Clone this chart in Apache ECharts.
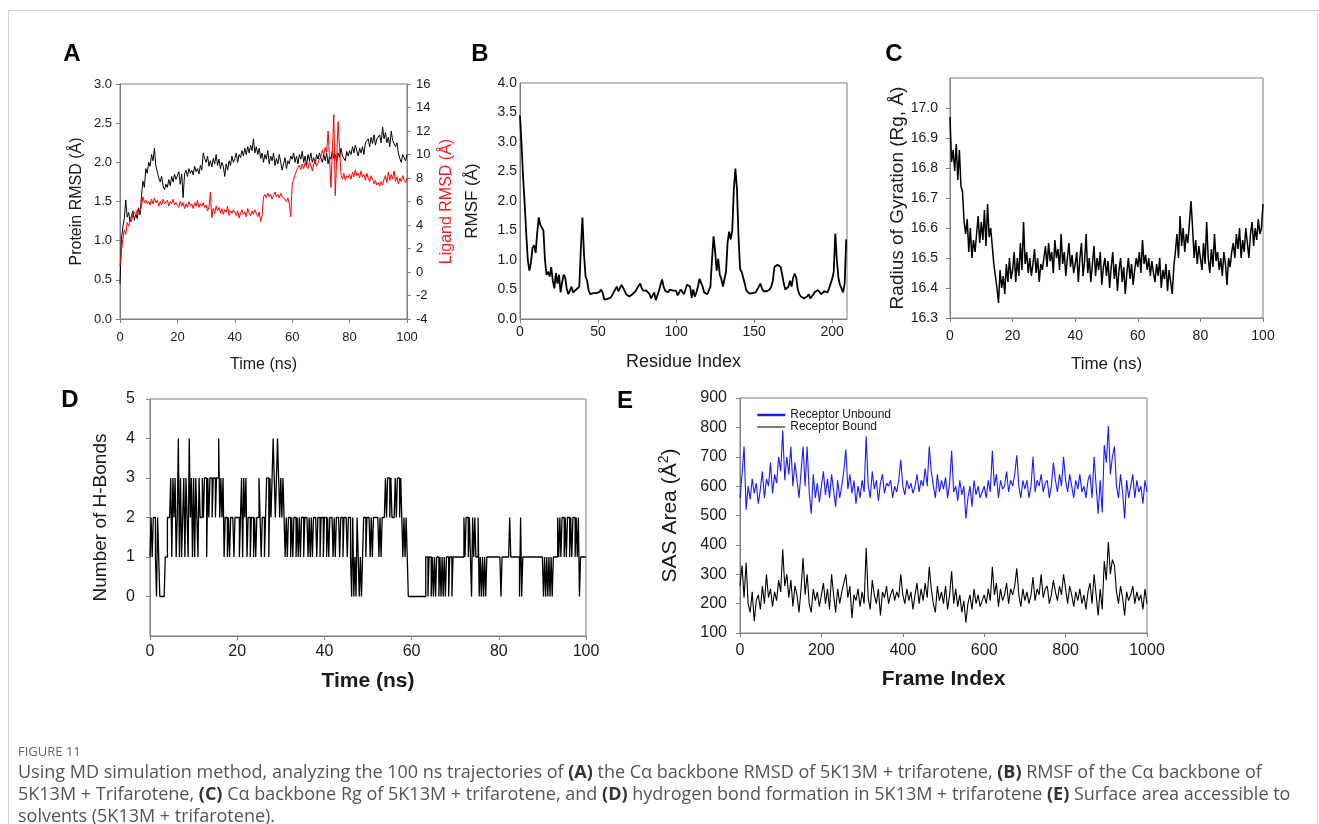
<!DOCTYPE html>
<html><head><meta charset="utf-8">
<script src="https://cdn.jsdelivr.net/npm/echarts@6/dist/echarts.min.js"></script>
<style>html,body{margin:0;padding:0;background:#fff}#c{width:1319px;height:824px}</style>
</head><body><div id="c"></div>
<script>
// ---------- DATA ----------
// Panel A: time step 0.5 ns, 0..100 ns
const A_TIME_STEP = 0.5;
const A_PROTEIN_RMSD = [
0.45,1.02,1.18,1.28,1.52,1.3,1.36,1.24,1.32,1.38,1.26,1.34,1.28,1.42,1.33,1.58,1.76,1.68,1.92,1.86,
2.0,1.95,2.1,2.02,2.18,1.95,1.88,1.8,1.75,1.82,1.7,1.65,1.72,1.68,1.78,1.7,1.82,1.75,1.85,1.78,
1.8,1.88,1.72,1.85,1.55,1.85,1.9,1.82,1.92,1.86,1.9,1.84,1.95,1.88,1.92,1.85,1.96,1.9,2.12,2.05,
2.0,2.08,1.95,2.02,1.94,2.05,1.98,2.1,1.96,2.04,1.92,2.0,1.95,1.82,1.98,1.9,2.02,1.96,2.08,2.0,
2.05,2.12,2.0,2.1,2.06,2.15,2.08,2.18,2.1,2.2,2.12,2.22,2.15,2.3,2.12,2.2,2.1,2.18,2.05,2.12,
2.0,2.1,2.04,2.15,1.98,2.08,2.02,2.12,1.96,2.05,1.98,2.1,2.0,1.9,1.98,2.06,1.92,2.02,1.98,2.08,
2.04,2.12,2.0,2.08,1.98,2.1,2.04,2.14,2.0,2.08,1.96,2.1,2.02,2.12,2.0,2.06,1.98,2.1,2.04,2.12,
2.05,2.0,2.1,2.02,2.12,1.98,2.08,2.04,2.15,2.05,2.1,2.0,2.12,2.06,2.18,2.08,2.1,2.02,2.14,2.08,
2.15,2.1,2.2,2.12,2.22,2.15,2.08,2.18,2.12,2.2,2.1,2.25,2.25,2.3,2.2,2.32,2.24,2.35,2.22,2.3,
2.28,2.35,2.25,2.45,2.3,2.38,2.25,2.32,2.2,2.4,2.28,2.3,2.2,2.25,2.12,2.05,2.0,2.1,2.08,2.02,
2.1];
const A_LIGAND_RMSD = [
0.5,1.8,2.8,3.6,3.2,4.2,3.9,4.5,4.3,4.9,5.1,4.8,5.3,5.0,5.2,5.6,6.4,5.9,6.1,5.8,
6.0,5.7,6.2,5.8,6.3,5.9,6.1,5.6,6.0,5.7,6.2,5.8,5.9,6.1,5.6,6.0,5.8,6.2,5.7,5.9,
5.8,5.5,6.0,5.6,5.9,5.4,5.8,5.5,6.0,5.6,5.8,5.4,5.9,5.6,6.1,5.5,5.8,5.6,5.9,5.5,
5.7,5.2,5.5,6.8,4.6,5.4,5.0,5.6,5.2,5.5,5.0,5.4,4.9,5.3,5.1,5.6,4.8,5.2,5.0,5.3,
5.1,4.8,5.2,4.6,5.0,5.3,4.9,5.1,4.7,5.4,5.0,4.8,5.2,4.9,5.3,5.0,4.7,5.1,4.3,4.8,
6.4,6.6,6.3,6.7,6.4,6.6,6.2,6.5,6.8,6.4,6.6,6.3,6.7,6.4,6.5,6.2,6.0,6.3,5.8,4.7,
7.4,7.9,8.3,8.6,8.9,9.1,8.7,9.2,8.8,9.3,9.0,8.8,9.4,9.1,8.6,9.2,9.5,9.0,9.3,9.6,
9.8,10.4,10.0,10.6,10.2,12.0,9.8,7.2,10.4,13.4,6.5,9.6,12.8,10.5,8.3,7.9,8.4,7.8,8.2,8.0,
8.3,7.9,8.5,8.1,8.7,8.2,8.4,8.0,8.6,8.1,8.3,7.8,8.4,8.0,7.7,8.2,7.9,7.5,7.8,7.4,
7.6,7.3,7.7,7.4,7.9,8.2,7.6,8.5,7.8,8.3,7.9,8.6,7.7,8.1,7.5,8.0,7.7,8.2,7.8,7.6,
8.0];
// Panel B: RMSF per residue (index 0..209)
const B_RMSF = [
3.45,2.95,2.4,1.95,1.45,1.0,0.82,0.95,1.2,1.25,1.12,1.45,1.72,1.6,1.62,1.5,1.0,0.75,0.8,0.72,
0.88,0.65,0.52,0.78,0.6,0.75,0.45,0.62,0.75,0.7,0.5,0.42,0.4,0.55,0.45,0.42,0.5,0.48,0.55,1.2,
1.72,1.1,0.72,0.65,0.48,0.42,0.45,0.44,0.47,0.44,0.46,0.46,0.5,0.44,0.33,0.35,0.34,0.37,0.36,0.4,
0.45,0.5,0.55,0.47,0.45,0.58,0.55,0.48,0.42,0.4,0.38,0.4,0.42,0.45,0.47,0.52,0.55,0.6,0.52,0.48,
0.47,0.48,0.5,0.42,0.35,0.4,0.45,0.32,0.4,0.48,0.58,0.67,0.55,0.48,0.46,0.45,0.5,0.53,0.48,0.45,
0.48,0.4,0.45,0.5,0.46,0.42,0.5,0.58,0.6,0.55,0.36,0.5,0.38,0.45,0.55,0.68,0.65,0.55,0.45,0.43,
0.42,0.45,0.55,1.0,1.4,1.15,0.82,1.02,0.75,0.68,0.55,0.52,0.8,1.3,1.48,1.35,1.5,2.2,2.55,2.2,
1.4,0.85,0.8,0.78,0.6,0.48,0.45,0.43,0.43,0.44,0.43,0.45,0.48,0.55,0.6,0.52,0.47,0.46,0.47,0.48,
0.5,0.55,0.65,0.88,0.9,0.92,0.95,0.88,0.75,0.6,0.5,0.52,0.55,0.65,0.55,0.7,0.77,0.7,0.5,0.42,
0.38,0.36,0.35,0.36,0.38,0.42,0.35,0.38,0.42,0.46,0.48,0.49,0.5,0.42,0.45,0.47,0.48,0.45,0.52,0.6,
0.68,0.8,1.45,1.0,0.7,0.58,0.55,0.45,0.6,1.35];
// Panel C: radius of gyration, step 0.5 ns
const C_TIME_STEP = 0.5;
const C_RG = [
16.97,16.82,16.86,16.79,16.88,16.76,16.86,16.74,16.72,16.62,16.58,16.63,16.52,16.6,16.5,16.56,16.52,16.58,16.64,16.55,
16.62,16.56,16.66,16.54,16.68,16.57,16.6,16.54,16.48,16.44,16.4,16.35,16.46,16.4,16.44,16.38,16.48,16.42,16.5,16.43,
16.46,16.52,16.42,16.5,16.44,16.55,16.46,16.62,16.48,16.52,16.45,16.5,16.44,16.48,16.53,16.45,16.5,16.42,16.48,16.46,
16.5,16.54,16.47,16.55,16.49,16.52,16.45,16.56,16.5,16.53,16.46,16.58,16.48,16.52,16.44,16.5,16.55,16.47,16.51,16.45,
16.48,16.52,16.42,16.5,16.55,16.44,16.49,16.58,16.45,16.5,16.42,16.48,16.54,16.44,16.5,16.46,16.52,16.41,16.47,16.5,
16.44,16.49,16.4,16.47,16.52,16.43,16.48,16.39,16.46,16.5,16.42,16.47,16.38,16.45,16.5,16.43,16.48,16.41,16.46,16.5,
16.47,16.52,16.45,16.56,16.48,16.51,16.46,16.5,16.44,16.49,16.45,16.42,16.48,16.44,16.5,16.4,16.46,16.43,16.48,16.39,
16.46,16.42,16.38,16.47,16.52,16.58,16.5,16.64,16.54,16.6,16.52,16.58,16.55,16.62,16.69,16.6,16.5,16.56,16.48,16.54,
16.5,16.46,16.55,16.48,16.62,16.5,16.45,16.53,16.47,16.58,16.49,16.52,16.46,16.5,16.44,16.52,16.48,16.41,16.5,16.47,
16.52,16.55,16.5,16.58,16.53,16.6,16.5,16.56,16.52,16.6,16.55,16.5,16.58,16.62,16.54,16.6,16.56,16.63,16.58,16.6,
16.68];
// Panel D: number of H-bonds, step 0.25 ns
const D_TIME_STEP = 0.25;
const D_HBONDS = [
1,2,1,2,2,1,0,2,1,0,0,0,0,0,1,1,2,2,2,3,
1,3,2,3,1,2,4,1,3,1,2,3,1,3,2,1,4,2,3,1,
3,1,3,2,1,3,2,2,3,2,3,3,1,3,2,3,3,2,3,3,
2,3,3,4,2,3,2,3,1,2,2,1,2,1,2,2,2,1,2,2,
2,2,1,2,3,1,3,2,3,1,2,2,1,2,2,1,2,1,2,2,
3,2,1,2,2,1,2,3,3,1,3,2,3,4,3,2,3,4,3,2,
3,2,3,2,1,2,1,2,2,1,2,1,2,2,1,2,1,2,1,2,
2,1,2,2,2,1,2,1,2,1,2,2,2,1,2,2,1,2,2,1,
2,2,1,2,1,2,2,2,1,2,1,2,2,2,1,2,2,1,2,2,
2,1,2,2,1,0,2,0,1,0,2,1,0,1,0,1,2,2,1,2,
2,2,1,2,1,2,2,2,2,2,1,2,1,2,2,2,3,2,3,3,
2,3,2,2,2,3,2,3,3,2,3,2,1,2,1,2,1,0,0,0,
0,0,0,0,0,0,0,0,0,0,0,0,0,1,1,0,1,1,0,1,
0,1,0,1,1,0,1,0,1,0,1,0,1,1,0,1,1,0,1,1,
1,1,1,1,1,1,1,1,2,1,2,2,1,2,1,0,2,1,2,1,
1,2,0,1,0,1,0,1,0,1,1,1,1,1,1,1,1,1,1,1,
1,1,0,1,1,1,1,1,1,1,2,1,1,1,1,1,1,1,1,0,
2,0,1,1,1,1,1,1,1,1,1,1,1,1,1,1,1,1,1,1,
1,0,1,0,1,0,1,0,1,0,1,1,1,1,2,1,2,1,2,2,
1,2,1,2,2,1,2,1,2,2,1,2,1,2,0,1,1,1,1,1,
1];
// Panel E: SAS area, every 5 frames
const E_FRAME_STEP = 5;
const E_UNBOUND = [
560,640,735,520,600,555,625,575,610,540,590,650,560,625,600,680,575,640,610,700,
650,790,620,700,640,735,600,680,620,560,650,735,600,735,580,505,640,560,610,545,
600,650,570,625,560,640,585,530,620,560,600,650,725,590,640,575,620,540,600,560,
620,580,770,600,560,650,590,620,550,610,640,575,610,600,620,560,600,580,620,690,
600,570,620,590,610,575,600,640,580,620,600,660,600,735,650,600,560,640,580,620,
590,630,560,610,720,580,600,550,620,570,600,490,560,600,530,620,570,600,560,580,
600,560,620,580,720,600,640,560,620,590,600,650,580,620,600,640,705,600,560,620,
590,620,560,600,700,580,620,600,640,580,610,620,560,600,680,620,580,640,600,700,
620,580,640,600,560,620,590,640,580,600,560,620,640,560,700,600,505,620,510,740,
680,805,640,700,735,600,560,640,580,490,620,560,600,640,560,620,580,600,540,620,
580];
const E_BOUND = [
260,330,220,340,200,170,240,140,210,230,180,260,200,300,220,250,190,240,210,280,
240,385,260,300,220,280,190,260,230,170,250,355,230,300,200,170,250,210,240,190,
230,270,200,250,180,300,230,170,250,200,240,270,300,220,260,150,230,210,250,190,
240,200,390,220,180,280,230,200,250,160,240,220,260,200,230,250,210,240,220,300,
230,200,250,210,240,180,230,270,200,250,210,270,220,325,250,200,170,260,210,240,
200,260,180,230,310,200,250,190,230,170,210,135,200,230,180,250,200,230,190,210,
230,200,250,210,325,230,270,190,250,210,230,270,200,250,230,260,320,230,190,250,
210,240,200,230,290,210,250,230,300,220,250,260,200,230,280,240,210,260,230,300,
250,200,260,230,190,240,210,250,200,230,180,240,270,200,300,230,160,250,180,345,
280,410,300,350,330,240,200,260,220,160,240,210,230,260,200,240,210,230,180,250,
200];
const SERIES_NAMES = ['Receptor Unbound', 'Receptor Bound'];
const PANEL_LABELS = ['A', 'B', 'C', 'D', 'E'];
const CAPTION_HEAD = 'FIGURE 11';
const CAPTION_LINES = [
  'Using MD simulation method, analyzing the 100 ns trajectories of {b|(A)} the Cα backbone RMSD of 5K13M + trifarotene, {b|(B)} RMSF of the Cα backbone of',
  '5K13M + Trifarotene, {b|(C)} Cα backbone Rg of 5K13M + trifarotene, and {b|(D)} hydrogen bond formation in 5K13M + trifarotene {b|(E)} Surface area accessible to',
  'solvents (5K13M + trifarotene).'
];

// ---------- HELPERS ----------
const FONT = '"Liberation Sans", Arial, sans-serif';
const CAP_FONT = '"Open Sans", sans-serif';
const AXC = '#808080';
const TXT = '#1a1a1a';
function pairs(arr, step) { return arr.map((v, i) => [i * step, v]); }
function merge(a, b) {
  const o = Array.isArray(a) ? a.slice() : Object.assign({}, a);
  for (const k in b) {
    if (b[k] && typeof b[k] === 'object' && !Array.isArray(b[k]) && a[k] && typeof a[k] === 'object') o[k] = merge(a[k], b[k]);
    else o[k] = b[k];
  }
  return o;
}
function axis(extra) {
  return merge({
    type: 'value', nameLocation: 'middle',
    axisLine: { show: true, onZero: false, lineStyle: { color: AXC, width: 1 } },
    axisTick: { show: true, inside: false, length: 4, lineStyle: { color: AXC, width: 1 } },
    splitLine: { show: false },
    axisLabel: { color: TXT, fontFamily: FONT, fontSize: 13, margin: 8 },
    nameTextStyle: { color: TXT, fontFamily: FONT, fontSize: 16 }
  }, extra);
}
function grid(l, t, w, h) {
  return { left: l, top: t, width: w, height: h, show: true, borderColor: AXC, borderWidth: 1,
           backgroundColor: 'transparent', containLabel: false, outerBoundsMode: 'none' };
}
function line(name, data, xi, yi, color, width, extra) {
  return Object.assign({ type: 'line', name: name, data: data, xAxisIndex: xi, yAxisIndex: yi,
    showSymbol: false, symbol: 'none', silent: true, animation: false,
    lineStyle: { color: color, width: width }, itemStyle: { color: color } }, extra || {});
}
const f1 = v => v.toFixed(1);
const plain = v => String(v);

// ---------- OPTION ----------
const option = {
  backgroundColor: '#fff',
  animation: false,
  grid: [
    grid(120, 84, 287, 235),
    grid(520, 83, 327, 236),
    grid(950, 78, 313, 240),
    grid(150, 399, 436, 237),
    grid(740, 398, 407, 235)
  ],
  xAxis: [
    axis({ gridIndex: 0, min: 0, max: 100, interval: 20, name: 'Time (ns)', nameGap: 38,
           axisLabel: { margin: 12 } }),
    axis({ gridIndex: 1, min: 0, max: 209.5, interval: 50, name: 'Residue Index', nameGap: 34,
           axisLabel: { fontSize: 14, margin: 6, showMaxLabel: false }, nameTextStyle: { fontSize: 18 } }),
    axis({ gridIndex: 2, min: 0, max: 100, interval: 20, name: 'Time (ns)', nameGap: 38,
           axisLabel: { fontSize: 14, margin: 11 }, nameTextStyle: { fontSize: 17 } }),
    axis({ gridIndex: 3, min: 0, max: 100, interval: 20, name: 'Time (ns)', nameGap: 35,
           axisLabel: { fontSize: 16, margin: 8 }, nameTextStyle: { fontSize: 21, fontWeight: 'bold' } }),
    axis({ gridIndex: 4, min: 0, max: 1000, interval: 200, name: 'Frame Index', nameGap: 36,
           axisLabel: { fontSize: 16, margin: 10, formatter: plain }, nameTextStyle: { fontSize: 21, fontWeight: 'bold' } })
  ],
  yAxis: [
    axis({ gridIndex: 0, min: 0, max: 3, interval: 0.5, name: 'Protein RMSD (Å)', nameGap: 35, nameRotate: 90,
           axisLabel: { formatter: f1 } }),
    axis({ gridIndex: 0, position: 'right', min: -4, max: 16, interval: 2, name: 'Ligand RMSD (Å)', nameGap: 32,
           nameRotate: 90, nameTextStyle: { color: '#ff1a1a' }, axisLabel: { margin: 9 } }),
    axis({ gridIndex: 1, min: 0, max: 4, interval: 0.5, name: 'RMSF (Å)', nameGap: 39,
           axisTick: { show: false },
           axisLabel: { formatter: f1, fontSize: 14, margin: 3 }, nameTextStyle: { fontSize: 17 } }),
    axis({ gridIndex: 2, min: 16.3, max: 17.1, interval: 0.1, name: 'Radius of Gyration (Rg, Å)', nameGap: 43,
           axisLabel: { formatter: f1, fontSize: 14, margin: 12, showMaxLabel: false }, nameTextStyle: { fontSize: 19 } }),
    axis({ gridIndex: 3, min: -1, max: 5, interval: 1, name: 'Number of H-Bonds', nameGap: 40,
           axisLabel: { fontSize: 16, margin: 15, showMinLabel: false },
           nameTextStyle: { fontSize: 19 } }),
    axis({ gridIndex: 4, min: 100, max: 900, interval: 100, name: 'SAS Area (Å{sup|2})', nameGap: 57,
           axisLabel: { fontSize: 16, margin: 13 },
           nameTextStyle: { fontSize: 21, lineHeight: 26,
             rich: { sup: { fontSize: 14, fontFamily: FONT, color: TXT, verticalAlign: 'top', lineHeight: 26 } } } })
  ],
  legend: {
    show: true, orient: 'vertical', left: 751, top: 404, itemWidth: 28, itemHeight: 8, itemGap: 0,
    textStyle: { fontFamily: FONT, fontSize: 12, color: TXT, lineHeight: 12 },
    itemStyle: { opacity: 0 },
    data: [
      { name: SERIES_NAMES[0], lineStyle: { width: 2.5, color: '#1a1aff' }, itemStyle: { opacity: 0 } },
      { name: SERIES_NAMES[1], lineStyle: { width: 1, color: '#000' }, itemStyle: { opacity: 0 } }
    ]
  },
  series: [
    line('Protein RMSD', pairs(A_PROTEIN_RMSD, A_TIME_STEP), 0, 0, '#000', 1),
    line('Ligand RMSD', pairs(A_LIGAND_RMSD, A_TIME_STEP), 0, 1, '#ff0000', 1),
    line('RMSF', pairs(B_RMSF, 1), 1, 2, '#000', 1.8),
    line('Rg', pairs(C_RG, C_TIME_STEP), 2, 3, '#000', 1.5),
    line('H-Bonds', pairs(D_HBONDS, D_TIME_STEP), 3, 4, '#000', 1.3, { step: 'end' }),
    line(SERIES_NAMES[0], pairs(E_UNBOUND, E_FRAME_STEP), 4, 5, '#1a1aff', 1.1),
    line(SERIES_NAMES[1], pairs(E_BOUND, E_FRAME_STEP), 4, 5, '#000', 1.1)
  ],
  graphic: [
    { type: 'line', silent: true, shape: { x1: 8, y1: 10.5, x2: 1319, y2: 10.5 }, style: { stroke: '#d4d4d4', lineWidth: 1 } },
    { type: 'line', silent: true, shape: { x1: 8.5, y1: 10, x2: 8.5, y2: 824 }, style: { stroke: '#d4d4d4', lineWidth: 1 } },
    { type: 'line', silent: true, shape: { x1: 1317.5, y1: 10, x2: 1317.5, y2: 824 }, style: { stroke: '#d4d4d4', lineWidth: 1 } }
  ]
};

// panel letters
const LABEL_POS = [[72, 54], [480, 54], [894, 54], [70, 400], [625, 401]];
PANEL_LABELS.forEach((t, i) => option.graphic.push({
  type: 'text', silent: true, x: LABEL_POS[i][0], y: LABEL_POS[i][1],
  style: { text: t, fontFamily: FONT, fontSize: 24, fontWeight: 'bold', fill: '#000', align: 'center', verticalAlign: 'middle' }
}));
// caption
option.graphic.push({
  type: 'text', silent: true, x: 18, y: 752,
  style: { text: CAPTION_HEAD, fontFamily: CAP_FONT, fontSize: 13, fill: '#666', verticalAlign: 'middle' }
});
CAPTION_LINES.forEach((t, i) => option.graphic.push({
  type: 'text', silent: true, x: 18, y: 773 + i * 22,
  style: { text: t, fontFamily: CAP_FONT, fontSize: 18, fill: '#555', verticalAlign: 'middle',
           rich: { b: { fontFamily: CAP_FONT, fontSize: 18, fontWeight: 'bold', fill: '#333', color: '#333' } } }
}));

const chart = echarts.init(document.getElementById('c'), null, { renderer: 'canvas', width: 1319, height: 824 });
chart.setOption(option);
</script>
</body></html>
